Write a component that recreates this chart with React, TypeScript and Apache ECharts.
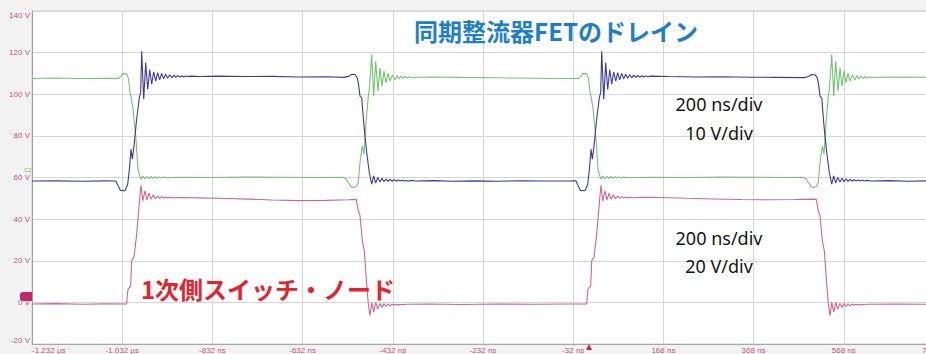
import React, { useEffect, useRef } from "react";
import * as echarts from "echarts";

// ---- axis ticks (ns) and voltage scale ----
const timeTicksNs = [-1232, -1032, -832, -632, -432, -232, -32, 168, 368, 568, 768];
const voltTicks = [-20, 0, 20, 40, 60, 80, 100, 120, 140];

// ---- green trace: [time ns, V] ----
const greenCycle1: number[][] = [
  [-1232, 107.6], [-1180, 107.8], [-1120, 107.6], [-1060, 107.7], [-1040, 107.6], [-1034, 108.8],
  [-1030.9, 109.9], [-1022, 109.8], [-1018, 107.5], [-1014.7, 100.9], [-1012.5, 99.0], [-1008, 93.0],
  [-1001.4, 78.4], [-997, 64.0], [-993.2, 60.8], [-990, 59.2], [-986, 60.7], [-981.5, 59.3],
  [-977, 60.6], [-972.5, 59.5], [-968, 60.5], [-963.5, 59.6], [-959, 60.4], [-954.5, 59.7],
  [-950, 60.3], [-945.5, 59.8], [-941, 60.2], [-930, 59.9], [-900, 60.1], [-840, 60.0],
  [-760, 60.2], [-680, 60.1], [-600, 60.0], [-545, 60.1],
  [-536, 59.5], [-530.7, 57.6], [-524, 55.6], [-519.6, 55.2], [-513.6, 55.6], [-508.5, 57.6],
  [-504.7, 67.2], [-499.6, 75.2], [-495.9, 71.2], [-491.4, 86.4], [-486.3, 99.1], [-484.1, 102.3],
  [-478.8, 119.1], [-474.4, 99.1], [-470, 115.9], [-464.8, 101.5], [-460.4, 112.7], [-456, 103.9],
  [-451.5, 111.1], [-447.1, 105.6], [-442.7, 110.0], [-438.2, 106.3], [-432.7, 109.3], [-427.1, 106.9],
  [-422.6, 109.0], [-418, 107.3], [-413.6, 108.8], [-409, 107.6], [-404.6, 108.5], [-400, 107.8],
  [-395, 108.4], [-390, 107.9], [-380, 108.2], [-340, 108.3], [-280, 108.1], [-200, 107.9],
  [-120, 107.7], [-50, 107.6],
];
const greenCycle2: number[][] = [
  [-20, 107.6], [-14, 108.8], [-10.9, 109.9], [-2, 109.8], [2, 107.5], [5.3, 100.9], [7.5, 99.0],
  [12, 93.0], [18.6, 78.4], [23, 64.0], [26.8, 60.8], [30, 59.2], [34, 60.7], [38.5, 59.3],
  [43, 60.6], [47.5, 59.5], [52, 60.5], [56.5, 59.6], [61, 60.4], [65.5, 59.7], [70, 60.3],
  [74.5, 59.8], [79, 60.2], [90, 59.9], [140, 60.1], [220, 60.0], [300, 60.2], [380, 60.1],
  [440, 60.0], [475, 60.1],
  [484, 59.5], [489.3, 57.6], [496, 55.6], [500.4, 55.2], [506.4, 55.6], [511.5, 57.6],
  [515.3, 67.2], [520.4, 75.2], [524.1, 71.2], [528.6, 86.4], [533.7, 99.1], [535.9, 102.3],
  [541.2, 119.1], [545.6, 99.1], [550, 115.9], [555.2, 101.5], [559.6, 112.7], [564, 103.9],
  [568.5, 111.1], [572.9, 105.6], [577.3, 110.0], [581.8, 106.3], [587.3, 109.3], [592.9, 106.9],
  [597.4, 109.0], [602, 107.3], [606.4, 108.8], [611, 107.6], [615.4, 108.5], [620, 107.8],
  [625, 108.4], [630, 107.9], [640, 108.2], [700, 108.3], [760, 108.1],
];

// ---- blue (navy) trace ----
const blueCycle1: number[][] = [
  [-1232, 58.3], [-1180, 58.4], [-1120, 58.2], [-1070, 58.4], [-1046, 58.3],
  [-1040, 55.5], [-1036, 53.8], [-1026, 53.6], [-1020, 56.5], [-1016, 64.0], [-1012.5, 73.6],
  [-1009.6, 68.8], [-1005.8, 75.2], [-1000, 88.0], [-994, 98.4], [-991, 100.9], [-988.8, 120.7],
  [-984.3, 97.6], [-979.9, 115.2], [-975.5, 102.3], [-971, 111.9], [-966.6, 104.8], [-962.2, 110.8],
  [-957.7, 106.3], [-953.3, 110.4], [-948.9, 106.9], [-944.5, 110.0], [-940, 107.4], [-935.6, 109.6],
  [-931.2, 107.7], [-926.7, 109.4], [-922.3, 107.9], [-917.8, 109.2], [-913.4, 108.1], [-909, 109.0],
  [-904.5, 108.2], [-900, 108.9], [-895.6, 108.3], [-891, 108.8], [-886, 108.4], [-880, 108.7],
  [-860, 108.5], [-820, 108.7], [-760, 108.5], [-700, 108.6], [-640, 108.3], [-580, 108.4],
  [-540, 108.1],
  [-530, 108.6], [-523, 109.6], [-516, 109.5], [-511, 108.0], [-508.5, 105.6], [-504.7, 99.1],
  [-501, 98.4], [-495.9, 84.8], [-489.9, 72.1], [-484.1, 62.4], [-478.8, 56.8], [-474.4, 60.8],
  [-470, 57.3], [-465.5, 60.0], [-460.4, 57.8], [-456, 59.6], [-451.5, 58.0], [-447, 59.3],
  [-442.5, 58.1], [-438, 59.1], [-433.5, 58.2], [-429, 58.9], [-424.5, 58.3], [-420, 58.8],
  [-415.5, 58.3], [-411, 58.7], [-406.5, 58.3], [-402, 58.6], [-397.5, 58.2], [-393, 58.6],
  [-380, 58.3], [-340, 58.5], [-300, 58.2], [-250, 58.4], [-200, 58.2], [-150, 58.4],
  [-100, 58.3], [-40, 58.3],
];
const blueCycle2: number[][] = [
  [-26, 58.4], [-20, 55.5], [-16, 53.8], [-6, 53.6], [0, 56.5], [4, 64.0], [7.5, 73.6],
  [10.4, 68.8], [14.2, 75.2], [20, 88.0], [26, 98.4], [29, 100.9], [31.2, 120.7], [35.7, 97.6],
  [40.1, 115.2], [44.5, 102.3], [49, 111.9], [53.4, 104.8], [57.8, 110.8], [62.3, 106.3],
  [66.7, 110.4], [71.1, 106.9], [75.5, 110.0], [80, 107.4], [84.4, 109.6], [88.8, 107.7],
  [93.3, 109.4], [97.7, 107.9], [102.2, 109.2], [106.6, 108.1], [111, 109.0], [115.5, 108.2],
  [120, 108.9], [124.4, 108.3], [129, 108.8], [134, 108.4], [140, 108.7], [180, 108.5],
  [240, 108.3], [300, 108.4], [360, 108.2], [420, 108.1], [480, 108.0],
  [490, 108.5], [497, 109.5], [504, 109.4], [509, 108.0], [511.5, 105.6], [515.3, 99.1],
  [519, 98.4], [524.1, 84.8], [530.1, 72.1], [535.9, 62.4], [541.2, 56.8], [545.6, 60.8],
  [550, 57.3], [554.5, 60.0], [559.6, 57.8], [564, 59.6], [568.5, 58.0], [573, 59.3],
  [577.5, 58.1], [582, 59.1], [586.5, 58.2], [591, 58.9], [595.5, 58.3], [600, 58.8],
  [604.5, 58.3], [609, 58.7], [613.5, 58.3], [618, 58.6], [630, 58.3], [670, 58.5],
  [710, 58.2], [760, 58.4],
];

// ---- pink (primary switch node) trace ----
const pinkCycle1: number[][] = [
  [-1232, -0.8], [-1180, -0.6], [-1120, -0.9], [-1070, -0.7], [-1022, -0.8], [-1020.7, 3.0],
  [-1019.1, 6.4], [-1016, 7.2], [-1013.2, 8.0], [-1010.9, 20.0], [-1005.8, 21.8], [-999.9, 32.8],
  [-992.5, 51.5], [-990.3, 56.3], [-986.5, 48.8], [-981.4, 53.6], [-977, 49.1], [-972.6, 52.5],
  [-968.1, 49.5], [-963, 51.7], [-958.6, 49.8], [-953.3, 51.0], [-949, 50.0], [-944.5, 50.8],
  [-940, 50.1], [-935.5, 50.6], [-931, 50.2], [-926, 50.5], [-921, 50.3], [-900, 50.4],
  [-860, 50.2], [-800, 49.9], [-750, 49.6], [-700, 49.2], [-640, 48.9], [-580, 49.0],
  [-530, 49.3], [-513, 49.5],
  [-508.5, 44.0], [-504.7, 41.6], [-499.6, 29.6], [-495.2, 24.8], [-489.9, 8.8], [-486.3, -0.8],
  [-482.5, -6.4], [-478.8, 0.0], [-474.4, -4.7], [-470, 0.0], [-465.5, -3.2], [-460.4, -0.5],
  [-456, -2.4], [-451.5, -0.6], [-447, -2.0], [-442.5, -0.7], [-438, -1.7], [-433.5, -0.8],
  [-429, -1.4], [-424.5, -0.9], [-420, -1.2], [-400, -0.9], [-350, -0.8], [-280, -1.0],
  [-200, -0.8], [-120, -0.9], [-40, -0.8],
];
const pinkCycle2: number[][] = [
  [-2, -0.8], [-0.7, 3.0], [0.9, 6.4], [4, 7.2], [6.8, 8.0], [9.1, 20.0], [14.2, 21.8],
  [20.1, 32.8], [27.5, 51.5], [29.7, 56.3], [33.5, 48.8], [38.6, 53.6], [43, 49.1], [47.4, 52.5],
  [51.9, 49.5], [57, 51.7], [61.4, 49.8], [66.7, 51.0], [71, 50.0], [75.5, 50.8], [80, 50.1],
  [84.5, 50.6], [89, 50.2], [94, 50.5], [99, 50.3], [120, 50.5], [160, 50.4], [220, 50.0],
  [280, 49.7], [340, 49.4], [400, 49.3], [460, 49.4], [500, 49.6], [507, 49.5],
  [511.5, 44.0], [515.3, 41.6], [520.4, 29.6], [524.8, 24.8], [530.1, 8.8], [533.7, -0.8],
  [537.5, -6.4], [541.2, 0.0], [545.6, -4.7], [550, 0.0], [554.5, -3.2], [559.6, -0.5],
  [564, -2.4], [568.5, -0.6], [573, -2.0], [577.5, -0.7], [582, -1.7], [586.5, -0.8],
  [591, -1.4], [595.5, -0.9], [600, -1.2], [620, -0.9], [680, -0.8], [760, -0.9],
];

// ---- annotation texts ----
const titleSync = "同期整流器FETのドレイン";
const titlePrimary = "1次側スイッチ・ノード";
const scaleUpper = ["200 ns/div", "10 V/div"];
const scaleLower = ["200 ns/div", "20 V/div"];

const COLORS = { green: "#74c470", blue: "#3d3b95", pink: "#cf6690", label: "#c8507c" };

function fmtTime(v: number): string {
  if (Math.abs(v) >= 1000) return (v / 1000).toFixed(3) + " µs";
  return v + " ns";
}

export default function App() {
  const ref = useRef<HTMLDivElement>(null);
  useEffect(() => {
    if (!ref.current) return;
    const chart = echarts.init(ref.current, undefined, { renderer: "svg" });
    const labelFont = { fontFamily: "Liberation Sans", fontSize: 8, color: COLORS.label };
    chart.setOption({
      animation: false,
      backgroundColor: "#f3f3f3",
      grid: {
        left: 32,
        right: -8,
        top: 11,
        bottom: 10,
        show: true,
        backgroundColor: "#ffffff",
        borderColor: "#cfcfcf",
        borderWidth: 1,
        outerBoundsMode: "none",
        containLabel: false,
      },
      xAxis: {
        type: "value",
        min: timeTicksNs[0],
        max: timeTicksNs[timeTicksNs.length - 1],
        interval: 200,
        axisLine: { show: true, onZero: false, lineStyle: { color: "#a8a8a8" } },
        axisTick: { show: false },
        splitLine: { show: true, lineStyle: { color: "#d6d6d6", width: 1 } },
        axisLabel: { ...labelFont, margin: 2, formatter: fmtTime, alignMinLabel: "left", hideOverlap: false, showMaxLabel: true, showMinLabel: true },
      },
      yAxis: {
        type: "value",
        min: voltTicks[0],
        max: voltTicks[voltTicks.length - 1],
        interval: 20,
        axisLine: { show: true, onZero: false, lineStyle: { color: "#a0a0a0" } },
        axisTick: { show: false },
        splitLine: { show: true, lineStyle: { color: "#d6d6d6", width: 1 } },
        axisLabel: {
          ...labelFont,
          margin: 2,
          formatter: "{value} V",
          verticalAlignMinLabel: "bottom",
          verticalAlignMaxLabel: "top",
        },
      },
      series: [
        {
          name: "pink",
          type: "line",
          data: [...pinkCycle1, ...pinkCycle2],
          showSymbol: false,
          lineStyle: { color: COLORS.pink, width: 1.1 },
          z: 2,
        },
        {
          name: "green",
          type: "line",
          data: [...greenCycle1, ...greenCycle2],
          showSymbol: false,
          lineStyle: { color: COLORS.green, width: 1.1 },
          z: 3,
        },
        {
          name: "blue",
          type: "line",
          data: [...blueCycle1, ...blueCycle2],
          showSymbol: false,
          lineStyle: { color: COLORS.blue, width: 1.1 },
          z: 4,
        },
      ],
      graphic: [
        {
          type: "text",
          x: 556,
          y: 30,
          z: 10,
          style: {
            text: titleSync,
            fontFamily: "Noto Sans CJK JP",
            fontWeight: "bold",
            fontSize: 24,
            fill: "#1d7fcc",
            align: "center",
            verticalAlign: "middle",
          },
        },
        {
          type: "text",
          x: 268,
          y: 288,
          z: 10,
          style: {
            text: titlePrimary,
            fontFamily: "Noto Sans CJK JP",
            fontWeight: "bold",
            fontSize: 24,
            fill: "#e6232b",
            align: "center",
            verticalAlign: "middle",
          },
        },
        ...scaleUpper.map((t, i) => ({
          type: "text",
          x: 719,
          y: 104 + i * 29,
          z: 10,
          style: { text: t, fontFamily: "Noto Sans", fontSize: 18, fill: "#151515", align: "center", verticalAlign: "middle" },
        })),
        ...scaleLower.map((t, i) => ({
          type: "text",
          x: 719,
          y: 238 + i * 28,
          z: 10,
          style: { text: t, fontFamily: "Noto Sans", fontSize: 18, fill: "#151515", align: "center", verticalAlign: "middle" },
        })),
        {
          type: "rect",
          x: 20,
          y: 292,
          z: 10,
          shape: { width: 12, height: 9, r: [3, 0, 0, 3] },
          style: { fill: "#c4286c" },
        },
        {
          type: "text",
          x: 24,
          y: 170,
          z: 10,
          style: { text: "C2", fontFamily: "Liberation Sans", fontSize: 6, fill: "#6cc26c", align: "left", verticalAlign: "middle" },
        },
        {
          type: "polygon",
          z: 10,
          shape: { points: [[586, 350], [592, 350], [589, 344]] },
          style: { fill: "#d42040" },
        },
      ],
    });
    return () => chart.dispose();
  }, []);
  return <div ref={ref} style={{ position: "absolute", left: 0, top: 0, width: 926, height: 354 }} />;
}
